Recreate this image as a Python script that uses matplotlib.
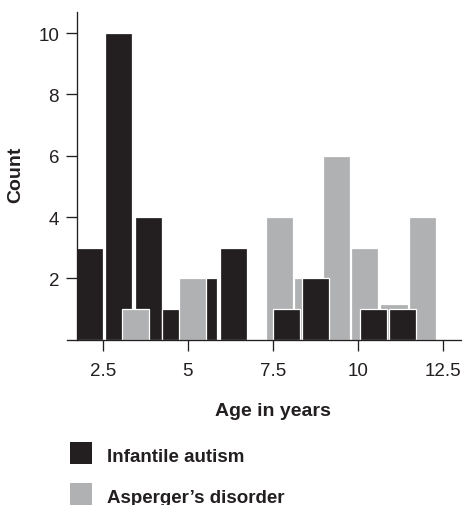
import matplotlib
matplotlib.use("Agg")
import matplotlib.pyplot as plt
from matplotlib.patches import Rectangle
import numpy as np

plt.rcParams['font.family'] = ['Liberation Sans', 'DejaVu Sans']

# Age histogram counts, one bar per age bin centre (years)
autism_ages = [2.12, 2.975, 3.84, 4.65, 5.46, 6.35, 7.90, 8.75, 10.46, 11.31]
autism_counts = [3, 10, 4, 1, 2, 3, 1, 2, 1, 1]
asperger_ages = [3.47, 5.14, 7.71, 8.54, 9.37, 10.21, 11.07, 11.90]
asperger_counts = [1, 2, 4, 2, 6, 3, 1.15, 4]

xticks = [2.5, 5, 7.5, 10, 12.5]
xtick_labels = ['2.5', '5', '7.5', '10', '12.5']
yticks = [2, 4, 6, 8, 10]

BLACK = '#231f20'
GRAY = '#b0b1b3'
W, H = 462, 506

fig = plt.figure(figsize=(W / 100, H / 100), dpi=100)
ax = fig.add_axes([67 / W, 165.4 / H, (W - 67) / W, 327.6 / H])

ages_a = np.array(autism_ages)
counts_a = np.array(autism_counts)
early = ages_a < 7

bar_kw = dict(width=0.8, edgecolor='white', linewidth=0.9, align='center')
# younger autism bars sit behind the Asperger bars, older ones in front
ax.bar(ages_a[early], counts_a[early], color=BLACK, zorder=1, **bar_kw)
ax.bar(asperger_ages, asperger_counts, color=GRAY, zorder=2, **bar_kw)
ax.bar(ages_a[~early], counts_a[~early], color=BLACK, zorder=3, **bar_kw)

ax.set_xlim(1.45, 13.07)
ax.set_ylim(0, 10.69)
ax.spines['left'].set_position(('data', 1.74))
ax.spines['top'].set_visible(False)
ax.spines['right'].set_visible(False)
for s in ('left', 'bottom'):
    ax.spines[s].set_color(BLACK)
    ax.spines[s].set_linewidth(0.95)
    ax.spines[s].set_zorder(5)

ax.set_xticks(xticks)
ax.set_xticklabels(xtick_labels)
ax.set_yticks(yticks)
ax.tick_params(axis='both', direction='out', length=7.8, width=0.95,
               color=BLACK, labelsize=13.5, labelcolor=BLACK)
ax.tick_params(axis='x', pad=8.5)
ax.tick_params(axis='y', pad=5)

fig.text(16 / W, 1 - 175 / H, 'Count', rotation=90, fontsize=14,
         fontweight='bold', ha='center', va='center', color=BLACK)
fig.text(272.7 / W, 1 - 416 / H, 'Age in years', fontsize=14,
         fontweight='bold', ha='center', va='baseline', color=BLACK)

# legend
legend_items = [('Infantile autism', BLACK), ("Asperger\u2019s disorder", GRAY)]
for i, (label, col) in enumerate(legend_items):
    top = 443 + i * 40.5
    fig.add_artist(Rectangle((70 / W, 1 - (top + 22) / H), 22 / W, 22 / H,
                             transform=fig.transFigure, facecolor=col,
                             edgecolor='none'))
    fig.text(106.7 / W, 1 - (top + 19.5) / H, label, fontsize=13.5,
             fontweight='bold', ha='left', va='baseline', color=BLACK)

fig.savefig('out.png', dpi=100)
